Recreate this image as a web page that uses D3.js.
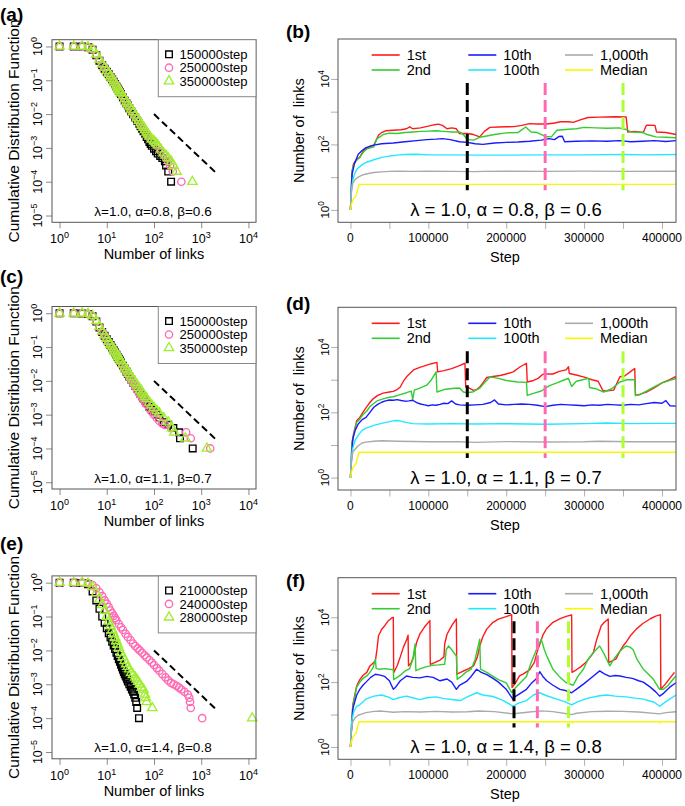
<!DOCTYPE html>
<html><head><meta charset="utf-8">
<script src="https://cdn.jsdelivr.net/npm/d3@7"></script>
<style>
body{margin:0;background:#fff;}
text{font-family:"Liberation Sans", Arial, Helvetica, sans-serif;fill:#000;}
</style></head><body>
<svg id="c" width="685" height="806"></svg>
<script>
// ---------------- DATA ----------------
const cdfXTicks = [1, 10, 100, 1000, 10000];
const cdfYTicks = [1, 0.1, 0.01, 0.001, 0.0001, 0.00001];
const stepTicks = [0, 50, 100, 150, 200, 250, 300, 350, 400]; // thousands of steps
const stepLabels = [0, 100, 200, 300, 400];
const linkTicks = [1, 10, 100, 1000, 10000];
const linkLabels = [1, 100, 10000];
const guideLine = [[100, 0.01], [2000, 0.00019]];
const guideSpan = [4, 7500];

const legendA = ["150000step", "250000step", "350000step"];
const legendC = ["150000step", "250000step", "350000step"];
const legendE = ["210000step", "240000step", "280000step"];
const rankNames = ["1st", "2nd", "10th", "100th", "1,000th", "Median"];
const notesLeft = ["λ=1.0, α=0.8, β=0.6", "λ=1.0, α=1.1, β=0.7", "λ=1.0, α=1.4, β=0.8"];
const notesRight = ["λ = 1.0, α = 0.8, β = 0.6", "λ = 1.0, α = 1.1, β = 0.7", "λ = 1.0, α = 1.4, β = 0.8"];
const stepsB = [150, 250, 350];
const stepsD = [150, 250, 350];
const stepsF = [210, 240, 280];

// CDF (a)
const cdfA150 = [[1,1],[2,1],[3,0.99],[4,0.95],[5,0.8],[6,0.55],[7,0.38],[8,0.28],[9,0.22],[10,0.18],[11,0.15],[12,0.125],[13,0.105],[14,0.09],[15,0.077],[16,0.066],[17,0.057],[18,0.05],[19,0.044],[20,0.039],[22,0.031],[24,0.025],[26,0.021],[28,0.018],[30,0.015],[33,0.012],[36,0.0099],[40,0.0079],[44,0.0064],[48,0.0053],[52,0.0044],[56,0.0037],[60,0.0031],[65,0.0026],[70,0.0021],[75,0.0018],[80,0.0015],[85,0.0013],[90,0.00115],[100,0.00095],[110,0.0008],[120,0.00068],[135,0.00058],[150,0.0005],[170,0.0004],[180,0.0003],[200,0.0002],[230,0.0001]];
const cdfA250 = [[1,1],[2,1],[3,1],[4,0.96],[5,0.82],[6,0.57],[7,0.4],[8,0.29],[9,0.23],[10,0.185],[11,0.155],[12,0.13],[13,0.11],[14,0.094],[15,0.08],[16,0.069],[17,0.06],[18,0.052],[19,0.046],[20,0.041],[22,0.033],[24,0.027],[26,0.022],[28,0.019],[30,0.016],[33,0.013],[36,0.011],[40,0.0088],[44,0.0072],[48,0.006],[52,0.005],[56,0.0043],[60,0.0037],[65,0.0031],[70,0.0027],[75,0.0023],[80,0.002],[90,0.0017],[100,0.0015],[110,0.0013],[120,0.0011],[140,0.0008],[160,0.00065],[180,0.0005],[200,0.0004],[220,0.0003],[250,0.0002],[380,0.0001]];
const cdfA350 = [[1,1],[2,1],[3,1],[4,0.96],[5,0.83],[6,0.58],[7,0.41],[8,0.3],[9,0.235],[10,0.19],[11,0.158],[12,0.133],[13,0.112],[14,0.096],[15,0.082],[16,0.071],[17,0.062],[18,0.054],[19,0.048],[20,0.042],[22,0.034],[24,0.028],[26,0.023],[28,0.02],[30,0.017],[33,0.0138],[36,0.0115],[40,0.0093],[44,0.0077],[48,0.0064],[52,0.0054],[56,0.0046],[60,0.004],[65,0.0034],[70,0.0029],[75,0.0025],[80,0.0022],[90,0.0018],[100,0.0016],[110,0.0014],[120,0.0012],[140,0.0009],[160,0.0007],[180,0.0006],[200,0.0005],[230,0.0004],[260,0.0003],[300,0.0002],[650,0.0001]];
// CDF (c)
const cdfC150 = [[1,1],[2,1],[3,0.99],[4,0.95],[5,0.82],[6,0.57],[7,0.38],[8,0.28],[9,0.215],[10,0.17],[11,0.14],[12,0.115],[13,0.096],[14,0.081],[15,0.069],[16,0.059],[17,0.051],[18,0.045],[19,0.04],[20,0.035],[22,0.028],[24,0.023],[26,0.019],[28,0.016],[30,0.0135],[33,0.011],[36,0.009],[40,0.0072],[44,0.0059],[48,0.0049],[52,0.0041],[56,0.0035],[60,0.003],[65,0.0026],[70,0.0022],[80,0.0017],[90,0.0014],[100,0.0012],[115,0.001],[130,0.0008],[160,0.0006],[200,0.0005],[257,0.0004],[340,0.0003],[355,0.0002],[660,0.0001]];
const cdfC250 = [[1,1],[2,1],[3,1],[4,0.96],[5,0.83],[6,0.58],[7,0.39],[8,0.285],[9,0.22],[10,0.172],[11,0.14],[12,0.116],[13,0.097],[14,0.082],[15,0.07],[16,0.06],[17,0.052],[18,0.045],[19,0.04],[20,0.035],[22,0.028],[24,0.023],[26,0.019],[28,0.016],[30,0.0132],[33,0.0105],[36,0.0085],[40,0.0066],[44,0.0053],[48,0.0044],[52,0.0037],[56,0.0032],[60,0.0028],[65,0.0023],[70,0.002],[80,0.0015],[90,0.0012],[100,0.001],[115,0.0008],[130,0.00065],[150,0.00055],[170,0.0005],[230,0.0004],[480,0.0003],[600,0.0002],[1550,0.0001]];
const cdfC350 = [[1,1],[2,1],[3,1],[4,0.96],[5,0.84],[6,0.6],[7,0.4],[8,0.29],[9,0.225],[10,0.178],[11,0.146],[12,0.121],[13,0.102],[14,0.087],[15,0.075],[16,0.065],[17,0.057],[18,0.05],[19,0.044],[20,0.039],[22,0.031],[24,0.026],[26,0.022],[28,0.019],[30,0.016],[33,0.0132],[36,0.011],[40,0.0089],[44,0.0074],[48,0.0062],[52,0.0053],[56,0.0046],[60,0.004],[65,0.0034],[70,0.003],[80,0.0023],[90,0.0019],[100,0.0016],[115,0.0013],[130,0.0011],[160,0.0008],[200,0.0006],[240,0.0004],[270,0.0003],[460,0.0002],[1320,0.0001]];
// CDF (e)
const cdfE210 = [[1,1],[2,1],[3,0.98],[4,0.9],[5,0.55],[6,0.3],[7,0.17],[8,0.1],[9,0.065],[10,0.045],[11,0.032],[12,0.024],[13,0.018],[14,0.014],[15,0.011],[16,0.0085],[17,0.0068],[18,0.0055],[19,0.0046],[20,0.0038],[21,0.0032],[22,0.0027],[23,0.0023],[24,0.002],[25,0.0018],[26,0.0016],[27,0.0014],[28,0.0012],[30,0.001],[32,0.00085],[34,0.0007],[36,0.0006],[38,0.0005],[40,0.0004],[42,0.0003],[44,0.0002],[48,0.0001]];
const cdfE240 = [[1,1],[2,1],[3,1],[4,0.97],[5,0.85],[6,0.68],[7,0.52],[8,0.4],[9,0.3],[10,0.24],[11,0.19],[12,0.15],[13,0.125],[14,0.105],[15,0.09],[16,0.078],[18,0.06],[20,0.048],[22,0.04],[25,0.031],[28,0.025],[32,0.02],[36,0.016],[40,0.0135],[45,0.0115],[50,0.01],[56,0.0085],[63,0.0072],[70,0.0062],[80,0.0052],[90,0.0044],[100,0.0037],[115,0.003],[130,0.0025],[150,0.002],[175,0.0016],[200,0.0013],[230,0.0011],[260,0.001],[300,0.0009],[340,0.0008],[380,0.0007],[440,0.0006],[520,0.0005],[560,0.0004],[580,0.0003],[600,0.0002],[1050,0.0001]];
const cdfE280 = [[1,1],[2,1],[3,1],[4,0.95],[5,0.75],[6,0.5],[7,0.32],[8,0.22],[9,0.15],[10,0.1],[11,0.072],[12,0.053],[13,0.04],[14,0.031],[15,0.024],[16,0.019],[17,0.015],[18,0.012],[20,0.0085],[22,0.0064],[24,0.005],[26,0.004],[28,0.0033],[30,0.0028],[33,0.0022],[36,0.0019],[40,0.0016],[43,0.0014],[46,0.0012],[50,0.001],[55,0.0008],[60,0.0007],[64,0.0005],[67,0.0004],[70,0.0003],[92,0.0002],[12000,0.0001]];

// Time series (b): [thousand steps, number of links]
const b1st = [[0,1],[2,15],[4,26],[8,35],[12,41],[17,66],[22,80],[26,90],[30,95],[34,150],[36,190],[40,230],[45,260],[55,270],[65,280],[72,300],[76,345],[80,300],[90,320],[100,360],[108,400],[113,415],[118,380],[124,300],[130,320],[136,300],[140,215],[150,215],[158,200],[166,170],[172,250],[179,330],[190,340],[200,345],[210,350],[220,380],[230,430],[240,420],[252,420],[262,450],[270,490],[280,490],[286,470],[295,560],[305,665],[320,680],[340,700],[354,690],[356,240],[365,250],[376,230],[380,385],[391,380],[393,240],[405,230],[418,200]];
const b2nd = [[0,1],[2,14],[4,24],[8,33],[12,40],[17,60],[22,75],[30,85],[34,150],[38,170],[42,200],[50,220],[60,215],[70,230],[80,240],[90,250],[100,255],[110,260],[120,250],[130,240],[140,240],[145,200],[150,140],[158,135],[166,165],[175,180],[185,200],[200,225],[215,230],[225,340],[232,240],[240,230],[250,175],[258,170],[265,270],[280,290],[290,300],[300,330],[315,320],[330,310],[345,320],[355,280],[360,240],[376,230],[381,200],[392,170],[405,165],[418,160]];
const b10th = [[0,1],[2,12],[5,25],[10,50],[15,65],[20,80],[30,95],[40,105],[55,110],[70,120],[85,130],[98,140],[110,145],[118,150],[128,140],[140,120],[150,115],[160,105],[170,100],[185,110],[200,115],[215,118],[230,125],[245,135],[255,150],[262,140],[268,175],[272,178],[275,120],[290,125],[310,128],[330,125],[345,130],[360,120],[375,125],[390,130],[405,122],[418,130]];
const b100th = [[0,1],[1,4],[3,8],[5,12],[8,17],[12,21],[16,25],[20,28],[30,34],[40,40],[50,44],[60,47],[70,49],[85,50],[100,48],[130,48],[160,47],[200,47],[250,48],[300,48],[350,49],[380,48],[418,49]];
const b1000th = [[0,1],[1,3],[3,6.5],[6,8.5],[10,10],[15,11.5],[20,12.5],[30,13.8],[40,14.5],[50,15],[60,15.3],[80,15],[100,15.2],[130,15],[160,14.7],[170,15],[200,15.2],[250,15],[300,15.3],[350,15],[418,15.2]];
const bMedian = [[0,1],[2,1.7],[4,2.2],[7,2.6],[9,4],[11,6],[418,6]];

// Time series (d)
const d1st = [[0,1],[2,12],[4,22],[8,55],[12,70],[16,100],[21,150],[25,200],[29,260],[35,330],[42,390],[50,420],[55,440],[60,500],[64,600],[68,900],[72,1230],[77,1600],[81,2000],[85,2200],[89,2400],[94,2600],[98,2800],[104,3100],[111,3400],[112,1740],[120,1900],[130,2200],[140,2700],[147,3200],[148,600],[152,560],[158,470],[162,500],[166,600],[170,800],[175,1170],[183,1250],[192,1350],[200,1500],[209,1740],[218,2500],[226,3200],[227,850],[235,950],[241,1100],[247,1480],[255,1500],[260,1500],[268,1800],[277,2000],[280,2500],[281,1550],[290,1400],[300,1200],[310,1000],[318,900],[324,470],[330,460],[338,480],[346,1230],[352,1300],[360,1800],[365,2200],[366,330],[372,360],[380,420],[390,560],[400,800],[410,1000],[418,1260]];
const d2nd = [[0,1],[2,11],[4,20],[8,50],[12,62],[16,85],[21,110],[25,150],[29,180],[35,230],[42,260],[50,290],[55,300],[64,350],[72,400],[78,450],[80,250],[82,480],[89,550],[98,680],[104,1000],[110,1750],[111,420],[120,500],[130,540],[140,560],[145,420],[150,400],[158,430],[166,550],[172,800],[179,1220],[190,1100],[200,950],[215,850],[226,830],[227,330],[235,380],[245,450],[255,650],[265,800],[275,1000],[280,1100],[284,620],[290,900],[298,1000],[306,1100],[307,580],[315,530],[320,470],[325,420],[335,520],[346,850],[355,1000],[365,1000],[366,330],[372,350],[380,450],[390,600],[400,800],[410,950],[418,1090]];
const d10th = [[0,1],[3,15],[6,28],[10,44],[15,60],[20,70],[25,100],[30,143],[35,175],[40,204],[45,225],[50,240],[55,235],[60,245],[65,230],[70,220],[75,225],[80,235],[85,200],[90,180],[95,170],[100,160],[105,170],[110,165],[115,175],[120,190],[125,185],[130,225],[135,180],[140,170],[150,165],[160,170],[170,175],[180,200],[185,240],[190,180],[200,170],[210,175],[220,180],[230,175],[240,165],[250,150],[260,165],[270,175],[280,170],[290,165],[300,160],[310,170],[320,165],[330,175],[340,170],[350,165],[360,175],[370,170],[380,185],[390,200],[400,190],[405,230],[410,160],[418,155]];
const d100th = [[0,1],[1,4],[3,8],[6,14],[10,20],[15,28],[20,33],[30,40],[40,46],[50,52],[55,55],[62,56],[70,50],[80,45],[100,44],[130,45],[160,44],[200,45],[250,43],[300,45],[330,47],[360,45],[390,46],[418,46]];
const d1000th = [[0,1],[1,3],[3,6],[5,7],[10,9.5],[15,11.5],[20,12.2],[30,13],[40,13.5],[60,13],[80,12.8],[100,12.5],[140,12.6],[160,12],[200,12.7],[250,12.3],[300,12.5],[320,13],[360,12.6],[418,12.5]];
const dMedian = [[0,1],[2,1.7],[4,2.2],[7,2.6],[9,4],[11,6],[418,6]];

// Time series (f)
const f1st = [[0,1],[3,20],[8,76],[12,120],[16,160],[21,200],[25,316],[32,450],[34,1000],[36,2700],[40,4200],[44,5500],[48,7500],[53,9500],[55,10000],[55.5,195],[60,320],[64,600],[68,1200],[72,2000],[74,2800],[74.5,316],[78,400],[81,600],[85,1700],[89,3000],[95,5000],[102,7900],[102.5,355],[108,400],[115,480],[120,600],[121,1500],[124,3000],[130,5500],[136,8900],[136.5,175],[145,220],[152,260],[158,316],[163,600],[166,1300],[170,2500],[175,4300],[183,7000],[190,8800],[200,10500],[207,12000],[207.5,68],[212,95],[217,155],[222,180],[230,240],[236,400],[240,900],[244,1700],[247,2800],[252,4500],[260,7000],[270,9200],[278,10800],[284,11700],[284.5,200],[290,240],[296,300],[302,400],[308,600],[312,820],[316,2000],[322,5500],[326,7000],[331,8900],[331.5,400],[336,450],[341,520],[346,900],[350,1300],[354,1700],[360,2800],[367,4300],[375,6300],[385,9000],[392,10800],[398,12000],[398.5,60],[404,85],[410,130],[416,200]];
const f2nd = [[0,1],[3,18],[8,70],[12,100],[16,130],[21,155],[25,200],[29,280],[32,500],[33,260],[38,250],[44,260],[50,250],[55,245],[55.5,120],[60,140],[65,170],[70,220],[76,260],[80,500],[83,1500],[84,225],[90,260],[98,300],[105,330],[113,340],[121,355],[123,1000],[126,1300],[130,1000],[133,800],[136,630],[137,122],[142,150],[148,200],[155,250],[160,500],[166,2100],[167,250],[175,200],[183,150],[190,120],[200,95],[207,47],[210,60],[215,80],[226,150],[232,400],[238,900],[245,2100],[249,1000],[252,650],[256,400],[260,250],[268,150],[277,96],[286,80],[292,150],[299,250],[305,500],[312,820],[320,1300],[325,800],[330,450],[333,316],[338,500],[346,900],[350,1100],[354,1300],[359,1200],[363,1000],[368,500],[376,250],[382,180],[389,122],[397,60],[402,60],[408,80],[414,120],[418,155]];
const f10th = [[0,1],[3,15],[8,40],[12,60],[16,80],[20,100],[26,140],[32,175],[38,165],[44,150],[50,110],[55,60],[58,70],[64,110],[72,155],[80,140],[89,135],[98,150],[106,140],[115,110],[124,125],[130,100],[136,60],[140,80],[149,105],[155,150],[162,250],[168,200],[175,170],[183,130],[190,100],[200,60],[209,29],[211,35],[218,45],[226,60],[232,90],[239,130],[243,210],[247,150],[252,110],[260,80],[269,60],[276,55],[284,47],[290,60],[300,90],[312,155],[320,222],[326,180],[333,150],[340,160],[346,155],[354,140],[362,130],[370,110],[376,100],[385,70],[392,50],[397,37],[402,45],[410,70],[418,96]];
const f100th = [[0,1],[1,5],[4,12],[8,18],[12,20],[20,30],[30,37],[40,40],[50,34],[55,29],[62,33],[72,37],[80,33],[89,29],[98,33],[110,35],[120,31],[130,29],[141,27],[150,35],[162,47],[170,40],[183,36],[195,28],[209,18],[215,22],[226,27],[235,40],[243,47],[252,38],[265,30],[275,25],[284,20],[292,25],[305,32],[320,38],[329,40],[340,37],[354,35],[365,32],[376,30],[390,24],[397,18],[405,25],[418,40]];
const f1000th = [[0,1],[1,3],[3,6],[6,8],[10,9.5],[15,10.5],[20,11.5],[30,12.5],[40,12.8],[55,11.8],[70,12.3],[90,12],[110,12.5],[130,12],[150,12.2],[165,12.8],[185,12.3],[209,10.5],[215,11],[230,12],[245,13],[260,12.3],[284,10],[290,11],[310,12.3],[330,12.7],[350,12.5],[370,12],[397,10.5],[405,11.5],[418,12.2]];
const fMedian = [[0,1],[2,1.7],[4,2.2],[7,2.6],[9,4],[11,6],[284,6],[285,5.4],[286,6],[397,6],[398,5.4],[399,6],[418,6]];

// ---------------- STYLE ----------------
const cdfColors = ["#000000", "#ff69b4", "#a0ee30"];
const cdfShapes = [d3.symbolSquare, d3.symbolCircle, d3.symbolTriangle];
const cdfSizes = [44, 42, 38];
const rankColors = ["#ff1a1a", "#33cc33", "#1a1aff", "#22e8ff", "#aaaaaa", "#f8f800"];
const guideColors = ["#000000", "#ff69b4", "#adff2f"];
const svg = d3.select("#c");
svg.append("rect").attr("width", 685).attr("height", 806).attr("fill", "#fff");

function powLabel(sel, v, fs) {
  const e = Math.round(Math.log10(v));
  sel.append("tspan").text("10");
  sel.append("tspan").attr("dy", -fs * 0.42).attr("font-size", fs * 0.72).text(e < 0 ? "\u2212" + (-e) : String(e));
}

function panelLabel(txt, x, y) {
  svg.append("text").attr("x", x).attr("y", y).attr("font-size", 19).attr("font-weight", "bold").text(txt);
}

function drawCdf(box, series, legend, note) {
  const x = d3.scaleLog().domain([Math.pow(10, -0.16), Math.pow(10, 4.16)]).range([box.x0, box.x1]);
  const y = d3.scaleLog().domain([Math.pow(10, -5.2), Math.pow(10, 0.2)]).range([box.y1, box.y0]);
  const g = svg.append("g");
  const ax = g.append("g").attr("transform", `translate(0,${box.y1})`)
    .call(d3.axisBottom(x).tickValues(cdfXTicks).tickFormat("").tickSize(6).tickSizeOuter(0));
  const ay = g.append("g").attr("transform", `translate(${box.x0},0)`)
    .call(d3.axisLeft(y).tickValues(cdfYTicks).tickFormat("").tickSize(6).tickSizeOuter(0));
  [ax, ay].forEach(a => { a.select(".domain").remove(); a.selectAll("line").attr("stroke", "#8a8a8a"); });
  cdfXTicks.forEach(v => {
    const t = g.append("text").attr("x", x(v)).attr("y", box.y1 + 21).attr("text-anchor", "middle").attr("font-size", 12.5);
    powLabel(t, v, 12.5);
  });
  cdfYTicks.forEach(v => {
    const t = g.append("text").attr("transform", `translate(${box.x0 - 10},${y(v)}) rotate(-90)`)
      .attr("text-anchor", "middle").attr("font-size", 12.5);
    powLabel(t, v, 12.5);
  });
  g.append("path").datum(guideLine)
    .attr("d", d3.line().x(d => x(d[0])).y(d => y(d[1])))
    .attr("stroke", "#000").attr("stroke-width", 2).attr("stroke-dasharray", "7,4").attr("fill", "none");
  series.forEach((s, i) => {
    const sym = d3.symbol().type(cdfShapes[i]).size(cdfSizes[i]);
    g.append("g").selectAll("path").data(s).join("path")
      .attr("transform", d => `translate(${x(d[0])},${y(d[1])})`)
      .attr("d", sym).attr("fill", "none").attr("stroke", cdfColors[i]).attr("stroke-width", 1.35);
  });
  g.append("rect").attr("x", box.x0).attr("y", box.y0).attr("width", box.x1 - box.x0).attr("height", box.y1 - box.y0)
    .attr("fill", "none").attr("stroke", "#555").attr("stroke-width", 1);
  const lx0 = box.x0 + 106.3;
  g.append("rect").attr("x", lx0).attr("y", box.y0).attr("width", box.x1 - lx0).attr("height", 57)
    .attr("fill", "#fff").attr("stroke", "#888").attr("stroke-width", 1);
  legend.forEach((lab, i) => {
    const yy = box.y0 + 14.6 + i * 13.4;
    const sym = d3.symbol().type(cdfShapes[i]).size(cdfSizes[i]);
    g.append("path").attr("transform", `translate(${box.x0 + 117},${yy})`).attr("d", sym)
      .attr("fill", "none").attr("stroke", cdfColors[i]).attr("stroke-width", 1.35);
    g.append("text").attr("x", box.x0 + 127.5).attr("y", yy + 4.6).attr("font-size", 13).text(lab);
  });
  g.append("text").attr("x", (box.x0 + box.x1) / 2 - 1).attr("y", box.y1 - 6.5).attr("text-anchor", "middle")
    .attr("font-size", 13.5).text(note);
  g.append("text").attr("x", (box.x0 + box.x1) / 2).attr("y", box.y1 + 37).attr("text-anchor", "middle")
    .attr("font-size", 14.5).text("Number of links");
  g.append("text").attr("transform", `translate(19,${(box.y0 + box.y1) / 2}) rotate(-90)`).attr("text-anchor", "middle")
    .attr("font-size", 15.5).text("Cumulative Distribution Function");
}

let clipN = 0;
function drawTs(box, series, guides, note) {
  const x = d3.scaleLinear().domain([-16, 418]).range([box.x0, box.x1]);
  const y = d3.scaleLog().domain([Math.pow(10, -0.38), Math.pow(10, 5.22)]).range([box.y1, box.y0]);
  const g = svg.append("g");
  const id = "clip" + (clipN++);
  g.append("clipPath").attr("id", id).append("rect").attr("x", box.x0).attr("y", box.y0)
    .attr("width", box.x1 - box.x0).attr("height", box.y1 - box.y0);
  const ax = g.append("g").attr("transform", `translate(0,${box.y1})`)
    .call(d3.axisBottom(x).tickValues(stepTicks).tickFormat("").tickSize(6.5).tickSizeOuter(0));
  const ay = g.append("g").attr("transform", `translate(${box.x0},0)`)
    .call(d3.axisLeft(y).tickValues(linkTicks).tickFormat("").tickSize(7).tickSizeOuter(0));
  [ax, ay].forEach(a => { a.select(".domain").remove(); a.selectAll("line").attr("stroke", "#b0b0b0"); });
  stepLabels.forEach(v => {
    g.append("text").attr("x", x(v)).attr("y", box.y1 + 19.5).attr("text-anchor", "middle").attr("font-size", 12)
      .text(String(v * 1000));
  });
  linkLabels.forEach(v => {
    const t = g.append("text").attr("transform", `translate(${box.x0 - 9.5},${y(v)}) rotate(-90)`)
      .attr("text-anchor", "middle").attr("font-size", 11.5);
    powLabel(t, v, 11.5);
  });
  const line = d3.line().x(d => x(d[0])).y(d => y(d[1]));
  const cg = g.append("g").attr("clip-path", `url(#${id})`);
  series.forEach((s, i) => {
    cg.append("path").datum(s).attr("d", line).attr("fill", "none")
      .attr("stroke", rankColors[i]).attr("stroke-width", 1.4).attr("stroke-linejoin", "round");
  });
  guides.forEach((s, i) => {
    cg.append("line").attr("x1", x(s)).attr("x2", x(s)).attr("y1", y(guideSpan[1])).attr("y2", y(guideSpan[0]))
      .attr("stroke", guideColors[i]).attr("stroke-width", 3).attr("stroke-dasharray", "12,5");
  });
  g.append("rect").attr("x", box.x0).attr("y", box.y0).attr("width", box.x1 - box.x0).attr("height", box.y1 - box.y0)
    .attr("fill", "none").attr("stroke", "#555").attr("stroke-width", 1);
  const colX = [33.7, 130.3, 227];
  rankNames.forEach((nm, i) => {
    const c = Math.floor(i / 2), r = i % 2;
    const lx = box.x0 + colX[c], ly = box.y0 + 16 + r * 15;
    g.append("line").attr("x1", lx).attr("x2", lx + 28).attr("y1", ly).attr("y2", ly)
      .attr("stroke", rankColors[i]).attr("stroke-width", 1.6);
    g.append("text").attr("x", lx + 35).attr("y", ly + 5).attr("font-size", 14.5).text(nm);
  });
  g.append("text").attr("x", (box.x0 + box.x1) / 2 - 1).attr("y", box.y1 - 6.5).attr("text-anchor", "middle")
    .attr("font-size", 18.5).text(note);
  g.append("text").attr("x", (box.x0 + box.x1) / 2 - 2).attr("y", box.y1 + 40).attr("text-anchor", "middle")
    .attr("font-size", 14.5).text("Step");
  g.append("text").attr("transform", `translate(304,${(box.y0 + box.y1) / 2}) rotate(-90)`).attr("text-anchor", "middle")
    .attr("font-size", 14.5).style("white-space", "pre").text("Number of  links");
}

const boxA = {x0: 52, x1: 256, y0: 39.7, y1: 222.3};
const boxC = {x0: 52, x1: 256, y0: 306.5, y1: 489};
const boxE = {x0: 52, x1: 256, y0: 575.9, y1: 758.8};
const boxB = {x0: 338, x1: 676, y0: 39, y1: 222.3};
const boxD = {x0: 338, x1: 676, y0: 307.3, y1: 490};
const boxF = {x0: 338, x1: 676, y0: 577.7, y1: 759.3};

drawCdf(boxA, [cdfA150, cdfA250, cdfA350], legendA, notesLeft[0]);
drawCdf(boxC, [cdfC150, cdfC250, cdfC350], legendC, notesLeft[1]);
drawCdf(boxE, [cdfE210, cdfE240, cdfE280], legendE, notesLeft[2]);
drawTs(boxB, [b1st, b2nd, b10th, b100th, b1000th, bMedian], stepsB, notesRight[0]);
drawTs(boxD, [d1st, d2nd, d10th, d100th, d1000th, dMedian], stepsD, notesRight[1]);
drawTs(boxF, [f1st, f2nd, f10th, f100th, f1000th, fMedian], stepsF, notesRight[2]);

panelLabel("(a)", 0, 21);
panelLabel("(b)", 286, 37.5);
panelLabel("(c)", 0, 283);
panelLabel("(d)", 286, 309.5);
panelLabel("(e)", 0, 549.5);
panelLabel("(f)", 286, 586.5);
</script></body></html>
